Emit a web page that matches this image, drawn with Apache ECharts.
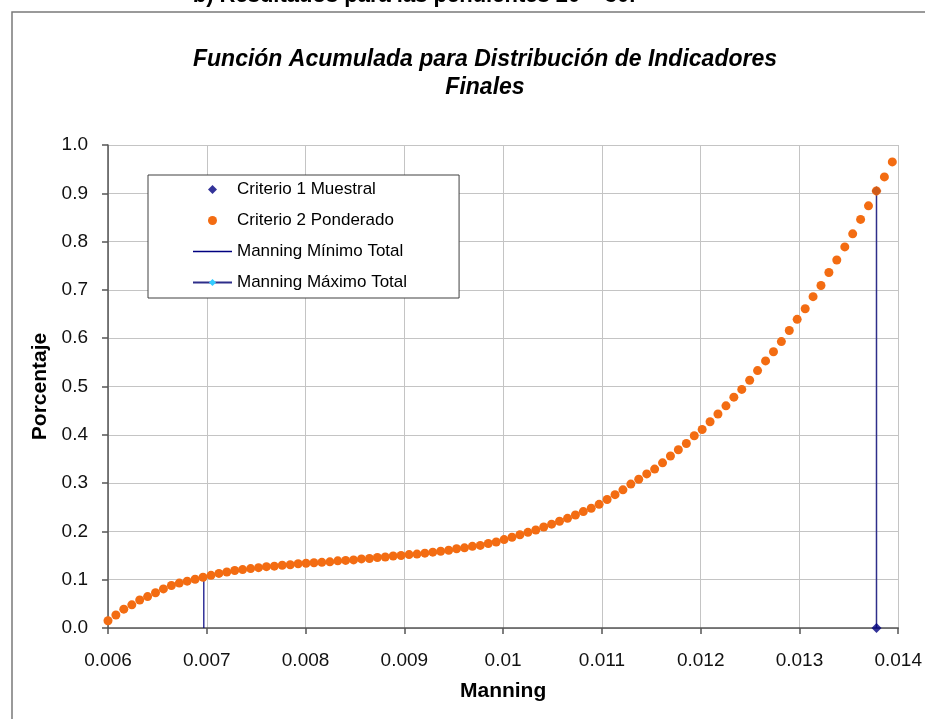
<!DOCTYPE html>
<html>
<head>
<meta charset="utf-8">
<script src="https://cdn.jsdelivr.net/npm/echarts@6/dist/echarts.min.js"></script>
<style>
  html, body { margin: 0; padding: 0; background: #ffffff; }
  #chart { width: 925px; height: 719px; }
</style>
</head>
<body>
<div id="chart"></div>
<script>
// Manning values (x) of the weighted cumulative distribution
const manningX = [
  0.006000, 0.006080, 0.006160, 0.006241, 0.006321, 0.006401, 0.006481, 0.006561, 0.006642, 0.006722,
  0.006802, 0.006882, 0.006962, 0.007043, 0.007123, 0.007203, 0.007283, 0.007363, 0.007444, 0.007524,
  0.007604, 0.007684, 0.007764, 0.007845, 0.007925, 0.008005, 0.008085, 0.008165, 0.008246, 0.008326,
  0.008406, 0.008486, 0.008566, 0.008647, 0.008727, 0.008807, 0.008887, 0.008967, 0.009048, 0.009128,
  0.009208, 0.009288, 0.009368, 0.009449, 0.009529, 0.009609, 0.009689, 0.009769, 0.009850, 0.009930,
  0.010010, 0.010090, 0.010170, 0.010251, 0.010331, 0.010411, 0.010491, 0.010571, 0.010652, 0.010732,
  0.010812, 0.010892, 0.010972, 0.011053, 0.011133, 0.011213, 0.011293, 0.011373, 0.011454, 0.011534,
  0.011614, 0.011694, 0.011774, 0.011855, 0.011935, 0.012015, 0.012095, 0.012175, 0.012256, 0.012336,
  0.012416, 0.012496, 0.012576, 0.012657, 0.012737, 0.012817, 0.012897, 0.012977, 0.013058, 0.013138,
  0.013218, 0.013298, 0.013378, 0.013459, 0.013539, 0.013619, 0.013699, 0.013779, 0.013860, 0.013940
];

// Cumulative percentage for "Criterio 2 Ponderado"
const ponderadoY = [
  0.015, 0.027, 0.039, 0.048, 0.058, 0.065, 0.073, 0.081, 0.088, 0.093,
  0.097, 0.101, 0.105, 0.109, 0.113, 0.116, 0.119, 0.121, 0.123, 0.125,
  0.127, 0.128, 0.130, 0.131, 0.133, 0.134, 0.135, 0.136, 0.137, 0.139,
  0.140, 0.141, 0.143, 0.144, 0.146, 0.147, 0.149, 0.150, 0.152, 0.153,
  0.155, 0.157, 0.159, 0.161, 0.164, 0.166, 0.169, 0.171, 0.175, 0.178,
  0.183, 0.188, 0.193, 0.198, 0.203, 0.209, 0.215, 0.221, 0.227, 0.234,
  0.241, 0.248, 0.256, 0.266, 0.276, 0.286, 0.298, 0.308, 0.319, 0.329,
  0.342, 0.356, 0.369, 0.382, 0.398, 0.411, 0.427, 0.443, 0.460, 0.478,
  0.494, 0.513, 0.533, 0.553, 0.572, 0.593, 0.616, 0.639, 0.661, 0.686,
  0.709, 0.736, 0.762, 0.789, 0.816, 0.846, 0.874, 0.905, 0.934, 0.965
];

// "Criterio 1 Muestral" points
const muestralX = [0.01378, 0.01378];
const muestralY = [0.0, 0.905];

// Total minimum / maximum Manning reference lines
const minimoX = [0.00697, 0.00697];
const minimoY = [0.0, 0.105];
const maximoX = [0.01378, 0.01378];
const maximoY = [0.0, 0.905];

const xTicks = { min: 0.006, max: 0.014, step: 0.001 };
const yTicks = { min: 0.0, max: 1.0, step: 0.1 };

const seriesNames = ['Criterio 1 Muestral', 'Criterio 2 Ponderado', 'Manning Mínimo Total', 'Manning Máximo Total'];
const titleLines = ['Función Acumulada para Distribución de Indicadores', 'Finales'];
const headerText = 'b) Resultados para las pendientes 20 – 30.';

const pair = (xs, ys) => xs.map((x, i) => [x, ys[i]]);

const FONT = '"Liberation Sans", Arial, sans-serif';
const NAVY = '#000080';
const ORANGE = '#f36c12';

// Legend glyphs: a small diamond and a plain horizontal stroke
const ICON_DIAMOND = 'path://M5,0L10,5L5,10L0,5Z';
const ICON_STROKE = 'path://M0,0H39V1.3H0Z';

const chart = echarts.init(document.getElementById('chart'), null, { renderer: 'canvas' });

chart.setOption({
  animation: false,
  backgroundColor: '#ffffff',
  textStyle: { fontFamily: FONT },
  title: {
    text: titleLines.join('\n'),
    left: 480,
    top: 41,
    textAlign: 'center',
    textStyle: {
      fontFamily: FONT,
      fontSize: 23,
      fontWeight: 'bold',
      fontStyle: 'italic',
      color: '#000000',
      lineHeight: 28
    }
  },
  graphic: [
    {
      type: 'rect',
      shape: { x: 12, y: 12, width: 1000, height: 1000 },
      style: { fill: 'none', stroke: '#7a7a7a', lineWidth: 1.5 },
      silent: true,
      z: -1
    },
    {
      type: 'text',
      x: 414,
      y: -4,
      style: {
        text: headerText,
        fontFamily: FONT,
        fontSize: 22,
        fontWeight: 'bold',
        fill: '#000000',
        align: 'center',
        verticalAlign: 'middle'
      },
      silent: true
    }
  ],
  legend: {
    orient: 'vertical',
    left: 148,
    top: 175,
    padding: [6, 52, 7, 44],
    itemWidth: 39,
    itemHeight: 9,
    itemGap: 14,
    symbolKeepAspect: true,
    backgroundColor: '#ffffff',
    borderColor: '#404040',
    borderWidth: 1,
    borderRadius: 0,
    textStyle: { fontFamily: FONT, fontSize: 17, color: '#000000', lineHeight: 16 },
    data: [
      { name: seriesNames[0], icon: ICON_DIAMOND },
      { name: seriesNames[1], icon: 'circle' },
      { name: seriesNames[2], icon: ICON_STROKE },
      { name: seriesNames[3] }
    ]
  },
  grid: { left: 108, right: 24, top: 145, bottom: 91, containLabel: false },
  xAxis: {
    type: 'value',
    min: xTicks.min,
    max: xTicks.max,
    interval: xTicks.step,
    name: 'Manning',
    nameLocation: 'middle',
    nameGap: 53,
    nameTextStyle: { fontFamily: FONT, fontSize: 21, fontWeight: 'bold', color: '#000000' },
    axisLine: { show: true, onZero: false, lineStyle: { color: '#555555', width: 1.5 } },
    axisTick: { show: true, inside: false, length: 6, lineStyle: { color: '#555555', width: 1.5 } },
    axisLabel: {
      margin: 23,
      fontFamily: FONT,
      fontSize: 19,
      color: '#111111',
      formatter: v => String(+v.toFixed(3))
    },
    splitLine: { show: true, lineStyle: { color: '#c4c4c4', width: 1 } }
  },
  yAxis: {
    type: 'value',
    min: yTicks.min,
    max: yTicks.max,
    interval: yTicks.step,
    name: 'Porcentaje',
    nameLocation: 'middle',
    nameGap: 53,
    nameRotate: 90,
    nameTextStyle: { fontFamily: FONT, fontSize: 21, fontWeight: 'bold', color: '#000000' },
    axisLine: { show: true, onZero: false, lineStyle: { color: '#555555', width: 1.5 } },
    axisTick: { show: true, inside: false, length: 6, lineStyle: { color: '#555555', width: 1.5 } },
    axisLabel: {
      margin: 20,
      fontFamily: FONT,
      fontSize: 19,
      color: '#111111',
      formatter: v => v.toFixed(1)
    },
    splitLine: { show: true, lineStyle: { color: '#c4c4c4', width: 1 } }
  },
  series: [
    {
      name: seriesNames[2],
      type: 'line',
      data: pair(minimoX, minimoY),
      symbol: 'none',
      lineStyle: { color: NAVY, width: 1.2 },
      itemStyle: { color: NAVY },
      z: 2
    },
    {
      name: seriesNames[3],
      type: 'line',
      data: pair(maximoX, maximoY),
      symbol: 'diamond',
      symbolSize: 6,
      showSymbol: false,
      lineStyle: { color: '#2e2e8a', width: 1.5 },
      itemStyle: { color: '#33ccff' },
      z: 2
    },
    {
      name: seriesNames[1],
      type: 'scatter',
      data: pair(manningX, ponderadoY),
      symbol: 'circle',
      symbolSize: 9,
      itemStyle: { color: ORANGE, opacity: 1 },
      z: 3
    },
    {
      name: seriesNames[0],
      type: 'scatter',
      data: pair(muestralX, muestralY).map((p, i) => (
        i === 1 ? { value: p, itemStyle: { color: '#c4581e' } } : { value: p }
      )),
      symbol: 'diamond',
      symbolSize: 10,
      itemStyle: { color: NAVY },
      z: 4
    }
  ]
});
</script>
</body>
</html>
